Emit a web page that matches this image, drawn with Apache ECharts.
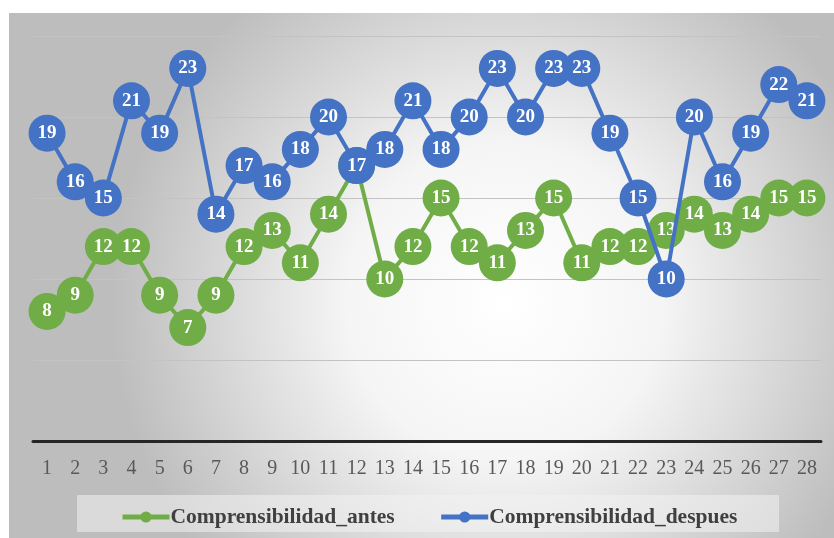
<!DOCTYPE html>
<html>
<head>
<meta charset="utf-8">
<script src="https://cdn.jsdelivr.net/npm/echarts@6/dist/echarts.min.js"></script>
<style>html,body{margin:0;padding:0;background:#fff;}#c{width:834px;height:538px;}</style>
</head>
<body>
<div id="c"></div>
<script>
const categories = ['1','2','3','4','5','6','7','8','9','10','11','12','13','14','15','16','17','18','19','20','21','22','23','24','25','26','27','28'];
const antes = [8,9,12,12,9,7,9,12,13,11,14,17,10,12,15,12,11,13,15,11,12,12,13,14,13,14,15,15];
const despues = [19,16,15,21,19,23,14,17,16,18,20,17,18,21,18,20,23,20,23,23,19,15,10,20,16,19,22,21];
const seriesNames = ['Comprensibilidad_antes','Comprensibilidad_despues'];
const yTicks = {min:0, max:25, interval:5};

const serif = 'Liberation Serif, Times New Roman, serif';
const chart = echarts.init(document.getElementById('c'));
function mk(name, data, color, z){
  return {
    name: name, type:'line', data: data, z: z,
    symbol:'circle', symbolSize:37,
    lineStyle:{color:color, width:4},
    itemStyle:{color:color},
    label:{show:true, position:'inside', color:'#fff', fontFamily:serif, fontWeight:'bold', fontSize:19},
    emphasis:{disabled:true}, animation:false
  };
}
chart.setOption({
  animation:false,
  graphic:[
    {type:'rect', z:-10, silent:true, shape:{x:9,y:13,width:825,height:525},
     style:{fill:{type:'radial', x:0.6, y:0.55, r:0.75, colorStops:[{offset:0,color:'#ffffff'},{offset:0.4,color:'#f5f5f5'},{offset:1,color:'#bdbdbd'}]}}},
    {type:'rect', z:-9, silent:true, shape:{x:77,y:495,width:702,height:37},
     style:{fill:'rgba(242,242,242,0.55)'}}
  ],
  grid:{left:33, right:13, top:36, bottom:97},
  xAxis:{type:'category', data:categories, boundaryGap:true,
    axisLine:{lineStyle:{color:'#262626', width:3}}, axisTick:{show:false},
    axisLabel:{color:'#595959', fontFamily:serif, fontSize:20, margin:18, interval:0}},
  yAxis:{type:'value', min:yTicks.min, max:yTicks.max, interval:yTicks.interval,
    axisLabel:{show:false}, axisLine:{show:false}, axisTick:{show:false},
    splitLine:{lineStyle:{color:'#c3c3c3', width:1}}},
  legend:{left:120, top:506, padding:0, itemWidth:47, itemHeight:14, itemGap:44,
    lineStyle:{width:5},
    textStyle:{color:'#404040', fontFamily:serif, fontWeight:'bold', fontSize:21.5, padding:[0,0,0,-4]},
    data:seriesNames},
  series:[mk(seriesNames[0], antes, '#70AD47', 2), mk(seriesNames[1], despues, '#4472C4', 3)]
});
</script>
</body>
</html>
